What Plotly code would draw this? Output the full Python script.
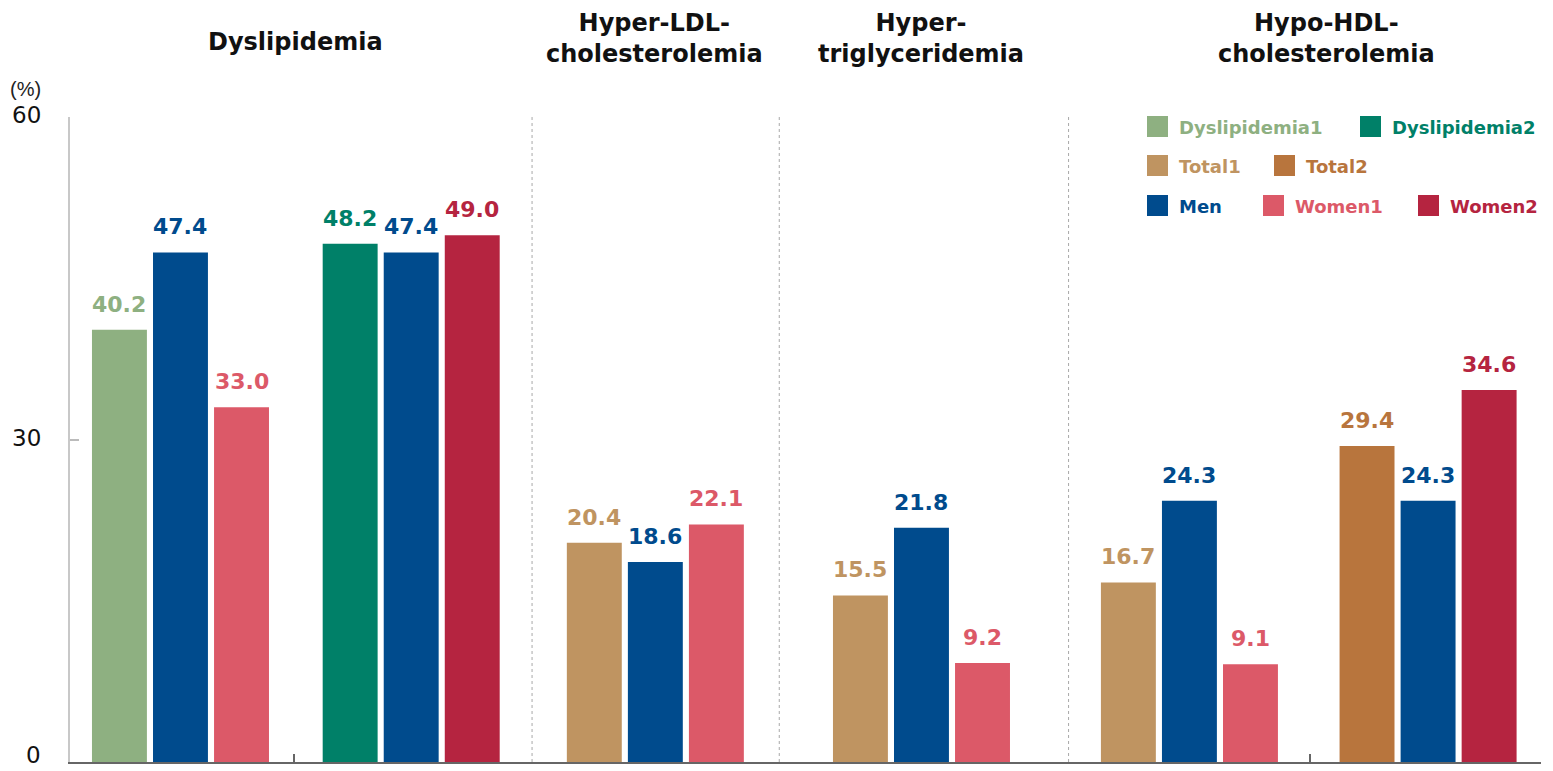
import plotly.graph_objects as go

# ---- data -------------------------------------------------------------
series_names = ["Dyslipidemia1", "Dyslipidemia2", "Total1", "Total2", "Men", "Women1", "Women2"]
series_colors = {
    "Dyslipidemia1": "#8eb081",
    "Dyslipidemia2": "#008068",
    "Total1": "#bf9461",
    "Total2": "#b8753d",
    "Men": "#004b8d",
    "Women1": "#dc5968",
    "Women2": "#b52440",
}

# each cluster holds three bars: (series, value)
cluster_series = [
    ["Dyslipidemia1", "Men", "Women1"],
    ["Dyslipidemia2", "Men", "Women2"],
    ["Total1", "Men", "Women1"],
    ["Total1", "Men", "Women1"],
    ["Total1", "Men", "Women1"],
    ["Total2", "Men", "Women2"],
]
cluster_values = [
    [40.2, 47.4, 33.0],
    [48.2, 47.4, 49.0],
    [20.4, 18.6, 22.1],
    [15.5, 21.8, 9.2],
    [16.7, 24.3, 9.1],
    [29.4, 24.3, 34.6],
]

section_titles = [
    "Dyslipidemia",
    "Hyper-LDL-<br>cholesterolemia",
    "Hyper-<br>triglyceridemia",
    "Hypo-HDL-<br>cholesterolemia",
]

y_ticks = [0, 30, 60]

# ---- layout geometry (x axis in bar-slot units) -----------------------
cluster_centers = [1.81, 5.59, 9.59, 13.95, 18.34, 22.25]
slot_step = 1.0
bar_width = 0.9
x_range = [0, 24.1]
section_dividers = [7.57, 11.62, 16.36]
pair_ticks = [3.67, 20.31]
title_centers = [3.69, 9.57, 13.95, 20.58]

FONT = "DejaVu Sans, Verdana, sans-serif"
PLAIN_FONT = "Liberation Sans, Arial, Helvetica, sans-serif"

# plot-area pixel frame, used to place the custom legend in paper units
W, H = 1553, 771
M_L, M_R, M_T, M_B = 70, 12, 117, 9
PW, PH = W - M_L - M_R, H - M_T - M_B


def px_x(px):
    return (px - M_L) / PW


def px_y(py):
    return (H - M_B - py) / PH


# gather bars per series
per_series = {s: {"x": [], "y": []} for s in series_names}
for center, names, vals in zip(cluster_centers, cluster_series, cluster_values):
    for i, (name, v) in enumerate(zip(names, vals)):
        per_series[name]["x"].append(center + (i - 1) * slot_step)
        per_series[name]["y"].append(v)

fig = go.Figure()
annotations = []
for name in series_names:
    d = per_series[name]
    fig.add_trace(go.Bar(
        x=d["x"], y=d["y"], width=bar_width, name=name,
        marker=dict(color=series_colors[name], line=dict(width=0)),
        showlegend=False, hoverinfo="skip",
    ))
    for x, v in zip(d["x"], d["y"]):
        annotations.append(dict(
            x=x, y=v, xref="x", yref="y", text=f"{v:.1f}", showarrow=False,
            yanchor="bottom", yshift=11,
            font=dict(family=FONT, size=22, color=series_colors[name], weight="bold"),
        ))

# y tick labels, right-aligned left of the axis line;
# the lowest one sits on the page's bottom edge so it stays inside
for t in y_ticks:
    lowest = t == min(y_ticks)
    annotations.append(dict(
        x=px_x(43), y=t, xref="paper", yref="y", text=str(t), showarrow=False,
        xanchor="right", yanchor="bottom" if lowest else "middle",
        yshift=-(M_B - 1) if lowest else 2,
        font=dict(family=FONT, size=23, color="#111111"),
    ))

# section headings
for t, xc in zip(section_titles, title_centers):
    two_line = "<br>" in t
    annotations.append(dict(
        x=xc, y=px_y(39 if two_line else 42), xref="x", yref="paper", text=t,
        showarrow=False, xanchor="center", yanchor="middle", align="center",
        font=dict(family=FONT, size=24, color="#111111", weight="bold"),
    ))

# unit label
annotations.append(dict(
    x=px_x(8), y=px_y(89), xref="paper", yref="paper", text="(%)", showarrow=False,
    xanchor="left", yanchor="middle", font=dict(family=PLAIN_FONT, size=20, color="#222222"),
))

# custom legend: three rows of coloured squares with coloured labels
legend_rows = [
    [("Dyslipidemia1", 1147), ("Dyslipidemia2", 1360)],
    [("Total1", 1147), ("Total2", 1274)],
    [("Men", 1147), ("Women1", 1263), ("Women2", 1418)],
]
legend_row_tops = [116, 155, 195]
shapes = []
sq = 21
for row, top in zip(legend_rows, legend_row_tops):
    for name, left in row:
        shapes.append(dict(
            type="rect", xref="paper", yref="paper",
            x0=px_x(left), x1=px_x(left + sq), y0=px_y(top + sq), y1=px_y(top),
            fillcolor=series_colors[name], line=dict(width=0),
        ))
        annotations.append(dict(
            x=px_x(left + 30), y=px_y(top + sq / 2 + 1), xref="paper", yref="paper",
            text=name, showarrow=False, xanchor="left", yanchor="middle",
            font=dict(family=FONT, size=18, color=series_colors[name], weight="bold"),
        ))

# dashed dividers between sections
for xd in section_dividers:
    shapes.append(dict(
        type="line", xref="x", yref="paper", x0=xd, x1=xd, y0=0, y1=1,
        line=dict(color="#a8a8a8", width=1, dash="3px,3px"), layer="below",
    ))

fig.update_layout(
    width=W, height=H,
    margin=dict(l=M_L, r=M_R, t=M_T, b=M_B, pad=0, autoexpand=False),
    paper_bgcolor="white", plot_bgcolor="white",
    barmode="overlay",
    showlegend=False,
    annotations=annotations,
    shapes=shapes,
    xaxis=dict(
        range=x_range, showgrid=False, zeroline=False, automargin=False,
        showline=True, linecolor="#666666", linewidth=2,
        tickvals=pair_ticks, ticks="inside", ticklen=8, tickcolor="#666666", tickwidth=2,
        showticklabels=False, fixedrange=True,
    ),
    yaxis=dict(
        range=[0, 60], tickvals=y_ticks, showgrid=False, zeroline=False, automargin=False,
        showline=True, linecolor="#c8c8c8", linewidth=1.5,
        ticks="inside", ticklen=9, tickcolor="#bbbbbb", tickwidth=1.5,
        showticklabels=False, fixedrange=True,
    ),
)

fig.write_html("out.html")
